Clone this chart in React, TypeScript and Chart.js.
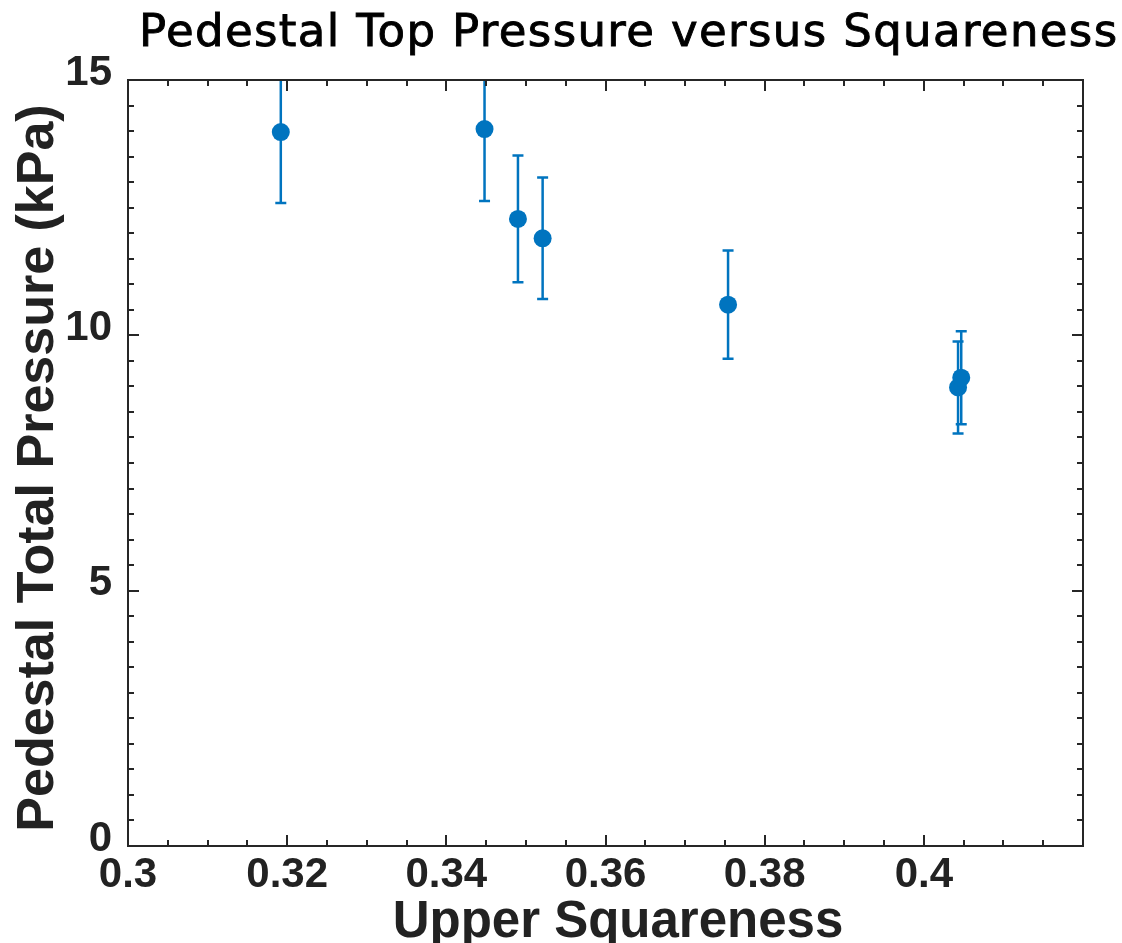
import React, { useEffect, useRef } from "react";
import { Chart, registerables } from "chart.js";

Chart.register(...registerables);

// ---- data ----
const squareness = [0.3192, 0.3448, 0.349, 0.3521, 0.3754, 0.4043, 0.4047];
const pressure = [13.98, 14.04, 12.28, 11.9, 10.6, 8.98, 9.17];
const pressureErr = [1.39, 1.41, 1.24, 1.19, 1.06, 0.9, 0.91];

const xTickValues = [0.3, 0.32, 0.34, 0.36, 0.38, 0.4];
const yTickValues = [0, 5, 10, 15];

const titleText = "Pedestal Top Pressure versus Squareness";
const xTitle = "Upper Squareness";
const yTitle = "Pedestal Total Pressure (kPa)";

const X_MIN = 0.3;
const X_MAX = 0.42;
const Y_MIN = 0;
const Y_MAX = 15;
const X_MINOR_STEP = 0.005;
const Y_MINOR_STEP = 0.5;

const MARK = "#0074BF";
const INK = "#222222";
const AXIS = "#262626";
const SANS = "'Liberation Sans', Arial, Helvetica, sans-serif";

const errorBarPlugin = {
  id: "errorBars",
  beforeDatasetsDraw(chart: any) {
    const { ctx, chartArea, scales } = chart;
    const xs = scales.x;
    const ys = scales.y;
    ctx.save();
    ctx.beginPath();
    ctx.rect(chartArea.left, chartArea.top, chartArea.right - chartArea.left, chartArea.bottom - chartArea.top);
    ctx.clip();
    ctx.strokeStyle = MARK;
    ctx.lineWidth = 2.5;
    const cap = 5.5;
    squareness.forEach((xv, i) => {
      const px = xs.getPixelForValue(xv);
      const top = ys.getPixelForValue(pressure[i] + pressureErr[i]);
      const bot = ys.getPixelForValue(pressure[i] - pressureErr[i]);
      ctx.beginPath();
      ctx.moveTo(px, top);
      ctx.lineTo(px, bot);
      ctx.moveTo(px - cap, top);
      ctx.lineTo(px + cap, top);
      ctx.moveTo(px - cap, bot);
      ctx.lineTo(px + cap, bot);
      ctx.stroke();
    });
    ctx.restore();
  },
};

const framePlugin = {
  id: "frame",
  afterDraw(chart: any) {
    const { ctx, chartArea, scales } = chart;
    const { left, right, top, bottom } = chartArea;
    const xs = scales.x;
    const ys = scales.y;
    ctx.save();
    ctx.strokeStyle = AXIS;
    ctx.lineWidth = 2;
    ctx.strokeRect(left, top, right - left, bottom - top);
    const major = 11;
    const minor = 6;
    ctx.beginPath();
    const nx = Math.round((X_MAX - X_MIN) / X_MINOR_STEP);
    for (let k = 0; k <= nx; k++) {
      const v = X_MIN + k * X_MINOR_STEP;
      const isMajor = xTickValues.some((t) => Math.abs(t - v) < 1e-9) || k % 4 === 0;
      const len = isMajor ? major : minor;
      const px = Math.round(xs.getPixelForValue(v));
      ctx.moveTo(px, bottom);
      ctx.lineTo(px, bottom - len);
      ctx.moveTo(px, top);
      ctx.lineTo(px, top + len);
    }
    const ny = Math.round((Y_MAX - Y_MIN) / Y_MINOR_STEP);
    for (let k = 0; k <= ny; k++) {
      const v = Y_MIN + k * Y_MINOR_STEP;
      const isMajor = yTickValues.some((t) => Math.abs(t - v) < 1e-9);
      const len = isMajor ? major : minor;
      const py = Math.round(ys.getPixelForValue(v));
      ctx.moveTo(left, py);
      ctx.lineTo(left + len, py);
      ctx.moveTo(right, py);
      ctx.lineTo(right - len, py);
    }
    ctx.stroke();

    // title
    ctx.fillStyle = "#000000";
    ctx.strokeStyle = "#000000";
    ctx.lineWidth = 0.9;
    ctx.textAlign = "left";
    ctx.textBaseline = "alphabetic";
    ctx.font = `45px 'DejaVu Sans', sans-serif`;
    const w = ctx.measureText(titleText).width;
    const spacing = Math.max(0, (978 - w) / (titleText.length - 1));
    (ctx as any).letterSpacing = `${spacing.toFixed(2)}px`;
    ctx.fillText(titleText, 139, 46);
    ctx.strokeText(titleText, 139, 46);
    (ctx as any).letterSpacing = "0px";

    // x title
    ctx.textAlign = "center";
    ctx.fillStyle = INK;
    ctx.font = `bold 51px ${SANS}`;
    ctx.fillText(xTitle, 618, 937);

    // y title
    ctx.save();
    ctx.translate(53, 468);
    ctx.rotate(-Math.PI / 2);
    ctx.font = `bold 52px ${SANS}`;
    ctx.fillText(yTitle, 0, 0);
    ctx.restore();

    ctx.restore();
  },
};

export default function App() {
  const ref = useRef<HTMLCanvasElement | null>(null);

  useEffect(() => {
    if (!ref.current) return;
    const chart = new Chart(ref.current, {
      type: "scatter",
      data: {
        datasets: [
          {
            data: squareness.map((x, i) => ({ x, y: pressure[i] })),
            backgroundColor: MARK,
            borderColor: MARK,
            pointRadius: 9,
            pointHoverRadius: 9,
            pointBorderWidth: 0,
            showLine: false,
          },
        ],
      },
      options: {
        responsive: false,
        animation: false,
        events: [],
        layout: { padding: { top: 80, right: 39, left: 0, bottom: 0 } },
        plugins: {
          legend: { display: false },
          tooltip: { enabled: false },
          title: { display: false },
        },
        scales: {
          x: {
            type: "linear",
            min: X_MIN,
            max: X_MAX,
            grid: { display: false, drawTicks: false },
            border: { display: false },
            afterBuildTicks: (s: any) => {
              s.ticks = xTickValues.map((v) => ({ value: v }));
            },
            afterFit: (s: any) => {
              s.height = 97;
            },
            ticks: {
              autoSkip: false,
              maxRotation: 0,
              padding: 4,
              color: INK,
              font: { family: SANS, size: 42, weight: "bold" },
              callback: (v: any) => String(Math.round(Number(v) * 100) / 100),
            },
          },
          y: {
            type: "linear",
            min: Y_MIN,
            max: Y_MAX,
            grid: { display: false, drawTicks: false },
            border: { display: false },
            afterBuildTicks: (s: any) => {
              s.ticks = yTickValues.map((v) => ({ value: v }));
            },
            afterFit: (s: any) => {
              s.width = 128;
            },
            ticks: {
              autoSkip: false,
              padding: 16,
              labelOffset: -7,
              color: INK,
              font: { family: SANS, size: 42, weight: "bold" },
              callback: (v: any) => String(v),
            },
          },
        },
      },
      plugins: [errorBarPlugin, framePlugin],
    } as any);
    return () => chart.destroy();
  }, []);

  return (
    <div style={{ position: "fixed", left: 0, top: 0, width: 1122, height: 943, background: "#ffffff" }}>
      <canvas ref={ref} width={1122} height={943} style={{ display: "block", width: 1122, height: 943 }} />
    </div>
  );
}
